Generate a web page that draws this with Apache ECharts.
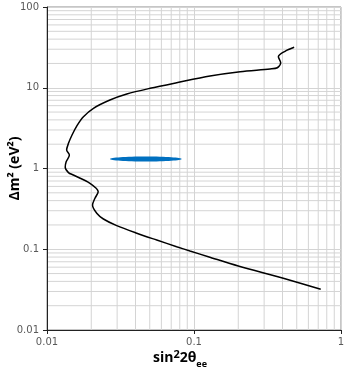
<!DOCTYPE html>
<html>
<head>
<meta charset="utf-8">
<script src="https://cdn.jsdelivr.net/npm/echarts@6/dist/echarts.min.js"></script>
<style>
  html, body { margin: 0; padding: 0; background: #fff; }
  #chart { width: 353px; height: 377px; }
</style>
</head>
<body>
<div id="chart"></div>
<script>
// exclusion contour, in drawing order (sin^2 2theta, dm^2)
const contourX = [0.48, 0.416, 0.375, 0.389, 0.369, 0.329, 0.206, 0.1285, 0.0762, 0.0502, 0.0349, 0.0268,
    0.0207, 0.0177, 0.0160, 0.0148, 0.0140, 0.0136, 0.0142, 0.0135, 0.0133, 0.0140, 0.0151, 0.0196, 0.0223,
    0.0212, 0.0204, 0.0218, 0.0242, 0.0298, 0.0408, 0.0558, 0.0762, 0.0939, 0.1251, 0.2, 0.405, 0.728];
const contourY = [31.7, 28.3, 24.2, 20.4, 17.7, 17.1, 15.8, 13.98, 11.55, 9.84, 8.37, 7.05,
    5.57, 4.38, 3.4, 2.6, 2.05, 1.69, 1.47, 1.21, 1.035, 0.89, 0.831, 0.656, 0.516,
    0.428, 0.353, 0.279, 0.237, 0.196, 0.158, 0.130, 0.1075, 0.0951, 0.0808, 0.062, 0.0437, 0.032];

// allowed region: x range and y range of the blue ellipse
const regionX = [0.0268, 0.0825];
const regionY = [1.22, 1.41];

// axes
const xRange = [0.01, 1];
const yRange = [0.01, 100];
const xMinorGrid = [0.02, 0.03, 0.04, 0.05, 0.06, 0.07, 0.08, 0.09,
    0.2, 0.3, 0.4, 0.5, 0.6, 0.7, 0.8, 0.9];
const yMinorGrid = [0.02, 0.03, 0.04, 0.05, 0.06, 0.07, 0.08, 0.09,
    0.2, 0.3, 0.4, 0.5, 0.6, 0.7, 0.8, 0.9,
    2, 3, 4, 5, 6, 7, 8, 9,
    20, 30, 40, 50, 60, 70, 80, 90];

const gridColor = '#d4d4d4';
const labelColor = '#595959';

const chart = echarts.init(document.getElementById('chart'));

// one minor grid line per value, drawn across the whole plot
function gridLine(dir) {
    return function (params, api) {
        let a, b;
        if (dir === 'x') {
            const v = api.value(0);
            a = api.coord([v, yRange[0]]);
            b = api.coord([v, yRange[1]]);
        } else {
            const v = api.value(1);
            a = api.coord([xRange[0], v]);
            b = api.coord([xRange[1], v]);
        }
        return {
            type: 'line',
            shape: { x1: a[0], y1: a[1], x2: b[0], y2: b[1] },
            style: { stroke: gridColor, lineWidth: 1 }
        };
    };
}

const option = {
    animation: false,
    grid: {
        left: 47, right: 12, top: 7, bottom: 47,
        outerBoundsMode: 'none',
        containLabel: false,
        show: true, borderColor: '#8c8c8c', borderWidth: 1
    },
    xAxis: {
        type: 'log', logBase: 10, min: xRange[0], max: xRange[1],
        axisLine: { lineStyle: { color: '#222', width: 1 } },
        axisTick: { show: true, length: 4, lineStyle: { color: '#222' } },
        axisLabel: {
            color: labelColor, fontFamily: 'DejaVu Sans', fontSize: 10, margin: 7,
            formatter: v => String(+v.toPrecision(3))
        },
        splitLine: { show: true, lineStyle: { color: gridColor } },
        name: '{b|sin}{sup|2}{b|2θ}{sub|ee}',
        nameLocation: 'middle',
        nameGap: 19,
        nameMoveOverlap: false,
        nameTextStyle: {
            padding: [0, 28, 0, 0],
            rich: {
                b: { fontFamily: 'Open Sans', fontWeight: 'bold', fontSize: 14, color: '#000', verticalAlign: 'bottom' },
                sup: { fontFamily: 'Open Sans', fontWeight: 'bold', fontSize: 11, color: '#000', padding: [0, 0, 5, 0], verticalAlign: 'bottom' },
                sub: { fontFamily: 'Open Sans', fontWeight: 'bold', fontSize: 9, color: '#000', padding: [0, 0, -4, 0], verticalAlign: 'bottom' }
            }
        }
    },
    yAxis: {
        type: 'log', logBase: 10, min: yRange[0], max: yRange[1],
        axisLine: { show: true, lineStyle: { color: '#222', width: 1 } },
        axisTick: { show: true, length: 4, lineStyle: { color: '#222' } },
        axisLabel: {
            color: labelColor, fontFamily: 'DejaVu Sans', fontSize: 10, margin: 8,
            formatter: v => String(+v.toPrecision(3))
        },
        splitLine: { show: true, lineStyle: { color: gridColor } },
        name: 'Δm² (eV²)',
        nameLocation: 'middle',
        nameGap: 25,
        nameMoveOverlap: false,
        nameTextStyle: { fontFamily: 'Open Sans', fontWeight: 'bold', fontSize: 14, color: '#000' }
    },
    series: [
        {
            type: 'custom', z: 0, silent: true,
            data: xMinorGrid.map(v => [v, 1]),
            encode: { x: 0, y: 1 },
            renderItem: gridLine('x')
        },
        {
            type: 'custom', z: 0, silent: true,
            data: yMinorGrid.map(v => [0.1, v]),
            encode: { x: 0, y: 1 },
            renderItem: gridLine('y')
        },
        {
            type: 'custom', z: 3, silent: true,
            data: [[regionX[0], regionY[0], regionX[1], regionY[1]]],
            encode: { x: [0, 2], y: [1, 3] },
            renderItem: function (params, api) {
                const p1 = api.coord([api.value(0), api.value(1)]);
                const p2 = api.coord([api.value(2), api.value(3)]);
                return {
                    type: 'ellipse',
                    shape: {
                        cx: (p1[0] + p2[0]) / 2, cy: (p1[1] + p2[1]) / 2,
                        rx: Math.abs(p2[0] - p1[0]) / 2, ry: Math.abs(p2[1] - p1[1]) / 2
                    },
                    style: { fill: '#0070c0' }
                };
            }
        },
        {
            type: 'line', z: 4, silent: true,
            data: contourX.map((x, i) => [x, contourY[i]]),
            smooth: 0.3,
            symbol: 'none',
            lineStyle: { color: '#000', width: 1.5 }
        }
    ]
};

chart.setOption(option);
</script>
</body>
</html>
